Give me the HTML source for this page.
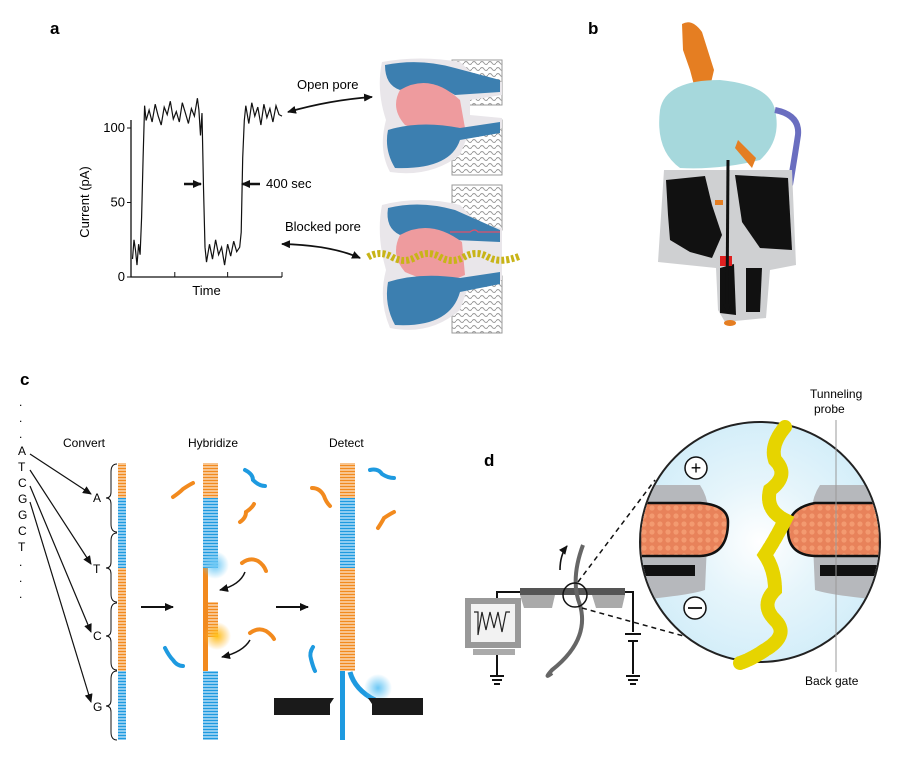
<!DOCTYPE html>
<html><head><meta charset="utf-8">
<style>
html,body{margin:0;padding:0;background:#fff;}
svg{display:block;font-family:"Liberation Sans",sans-serif;}
</style></head>
<body>
<svg width="900" height="758" viewBox="0 0 900 758">
<defs>
<pattern id="lip" width="8" height="6" patternUnits="userSpaceOnUse"><path d="M0 3 Q2 0 4 3 T8 3" fill="none" stroke="#999" stroke-width="1"/></pattern>
<pattern id="rungO" width="4" height="3" patternUnits="userSpaceOnUse"><rect width="4" height="3" fill="#f28a1e"/><rect x="0" y="1.5" width="4" height="1" fill="#fff"/></pattern>
<pattern id="rungB" width="4" height="3" patternUnits="userSpaceOnUse"><rect width="4" height="3" fill="#1e9ae0"/><rect x="0" y="1.5" width="4" height="1" fill="#fff"/></pattern>
<pattern id="dots" width="8" height="8" patternUnits="userSpaceOnUse"><rect width="8" height="8" fill="#e8825a"/><circle cx="4" cy="4" r="2.6" fill="#f39a70"/></pattern>
<radialGradient id="glowB"><stop offset="0" stop-color="#6cc8f5"/><stop offset="1" stop-color="#6cc8f5" stop-opacity="0"/></radialGradient>
<radialGradient id="glowO"><stop offset="0" stop-color="#ffc21a"/><stop offset="1" stop-color="#ffb020" stop-opacity="0"/></radialGradient>
<radialGradient id="circ"><stop offset="0" stop-color="#ffffff"/><stop offset="0.5" stop-color="#e6f5fb"/><stop offset="1" stop-color="#d4eef9"/></radialGradient>
<marker id="ah" markerWidth="9" markerHeight="8" refX="8" refY="4" orient="auto-start-reverse" markerUnits="userSpaceOnUse"><path d="M0 0 L9 4 L0 8 Z" fill="#111"/></marker>
</defs>

<!-- panel labels -->
<text x="50" y="34" font-size="17" font-weight="bold">a</text>
<text x="588" y="34" font-size="17" font-weight="bold">b</text>
<text x="20" y="385" font-size="17" font-weight="bold">c</text>
<text x="484" y="466" font-size="17" font-weight="bold">d</text>

<!-- PANEL A chart -->
<g id="chartA"></g>
<text x="266" y="188" font-size="13">400 sec</text>
<line x1="184" y1="184" x2="201" y2="184" stroke="#111" stroke-width="2.5" marker-end="url(#ah)"/>
<line x1="260" y1="184" x2="242" y2="184" stroke="#111" stroke-width="2.5" marker-end="url(#ah)"/>

<!-- pores -->
<g>
 <rect x="452" y="60" width="50" height="45" fill="url(#lip)" stroke="#999"/>
 <rect x="452" y="120" width="50" height="55" fill="url(#lip)" stroke="#999"/>
 <path d="M382 62 Q420 55 460 62 L480 80 L502 82 L502 95 L470 100 L470 115 L502 118 L502 128 L470 130 L460 155 Q430 178 390 172 Q378 150 386 120 Q376 90 382 62Z" fill="#e9e6ea"/>
 <path d="M385 65 Q420 58 455 68 L500 80 L500 92 L455 95 Q430 80 400 90 Q385 85 385 65Z" fill="#3c7fb0"/>
 <path d="M400 90 Q430 72 460 100 L465 128 Q440 140 405 125 Q390 108 400 90Z" fill="#ee9b9e"/>
 <path d="M388 130 Q420 120 460 128 L500 122 L500 133 L460 140 Q450 170 395 168 Q384 150 388 130Z" fill="#3c7fb0"/>
</g>
<g>
 <rect x="452" y="185" width="50" height="45" fill="url(#lip)" stroke="#999"/>
 <rect x="452" y="276" width="50" height="57" fill="url(#lip)" stroke="#999"/>
 <path d="M382 205 Q420 195 460 205 L480 225 L502 228 L502 280 L470 282 L460 310 Q430 336 390 328 Q378 300 386 270 Q376 235 382 205Z" fill="#e9e6ea"/>
 <path d="M388 208 Q420 200 455 210 L500 230 L500 242 L455 240 Q430 225 400 235 Q385 228 388 208Z" fill="#3c7fb0"/>
 <path d="M400 235 Q430 218 462 242 L465 275 Q440 288 405 272 Q390 255 400 235Z" fill="#ee9b9e"/>
 <path d="M388 282 Q420 272 460 278 L500 272 L500 284 L460 292 Q450 328 395 325 Q384 305 388 282Z" fill="#3c7fb0"/>
 <path d="M368 257 Q380 250 392 257 T416 257 T440 257 T464 257 T488 257 T520 256" fill="none" stroke="#c8b418" stroke-width="7" stroke-dasharray="3 2"/>
 <path d="M450 232 L470 232 Q475 228 478 232 L500 232" fill="none" stroke="#e0506a" stroke-width="1.2"/>
</g>
<text x="297" y="89" font-size="13">Open pore</text>
<path d="M288 112 Q330 100 372 97" fill="none" stroke="#111" stroke-width="1.8" marker-end="url(#ah)" marker-start="url(#ah)"/>
<text x="285" y="231" font-size="13">Blocked pore</text>
<path d="M282 244 Q330 245 360 258" fill="none" stroke="#111" stroke-width="1.8" marker-end="url(#ah)" marker-start="url(#ah)"/>

<!-- PANEL B -->
<g>
 <path d="M682 24 Q692 18 702 32 L714 70 L707 100 L698 100 L690 70 L683 50 Z" fill="#e57e22"/>
 <path d="M660 110 Q665 80 720 80 Q770 85 775 110 Q782 140 760 160 Q720 170 680 168 Q655 150 660 110Z" fill="#a6d8dc"/>
 <path d="M738 140 L756 158 L752 168 L735 148Z" fill="#e57e22"/>
 <path d="M775 110 Q800 115 798 135 Q795 155 790 185" fill="none" stroke="#6a6ec0" stroke-width="6"/>
 <path d="M664 170 L792 170 L796 265 L770 270 L766 318 L725 322 L718 310 L716 268 L658 262 Z" fill="#cfd0d2"/>
 <path d="M666 180 L705 176 L712 205 L722 235 L712 258 L690 252 L670 240 L668 215Z" fill="#111"/>
 <path d="M735 175 L788 178 L792 250 L760 248 L742 222Z" fill="#111"/>
 <path d="M720 268 L734 264 L736 315 L720 313Z" fill="#111"/>
 <path d="M746 268 L762 268 L760 312 L746 312Z" fill="#111"/>
 <rect x="720" y="256" width="12" height="10" fill="#e02020"/>
 <rect x="715" y="200" width="8" height="5" fill="#e57e22"/>
 <ellipse cx="730" cy="323" rx="6" ry="3" fill="#e57e22"/>
 <line x1="728" y1="160" x2="727" y2="312" stroke="#111" stroke-width="3" marker-end="url(#ah)"/>
</g>

<!-- PANEL C -->
<g font-size="12">
 <text x="19" y="406">.</text><text x="19" y="422">.</text><text x="19" y="438">.</text>
 <text x="18" y="455">A</text><text x="18" y="471">T</text><text x="18" y="487">C</text><text x="18" y="503">G</text><text x="18" y="519">G</text><text x="18" y="535">C</text><text x="18" y="551">T</text>
 <text x="19" y="566">.</text><text x="19" y="582">.</text><text x="19" y="598">.</text>
</g>
<text x="63" y="447" font-size="12">Convert</text>
<text x="188" y="447" font-size="12">Hybridize</text>
<text x="329" y="447" font-size="12">Detect</text>
<g stroke="#111" stroke-width="1.2" fill="none">
 <line x1="30" y1="454" x2="91" y2="494" marker-end="url(#ah)"/>
 <line x1="30" y1="470" x2="91" y2="564" marker-end="url(#ah)"/>
 <line x1="30" y1="486" x2="91" y2="632" marker-end="url(#ah)"/>
 <line x1="30" y1="502" x2="91" y2="702" marker-end="url(#ah)"/>
</g>
<g font-size="12">
 <text x="93" y="502">A</text><text x="93" y="573">T</text><text x="93" y="640">C</text><text x="93" y="711">G</text>
</g>
<g stroke="#111" stroke-width="1" fill="none">
 <path d="M117 464 Q111 464 111 472 L111 492 Q111 498 106 498 Q111 498 111 504 L111 524 Q111 532 117 532"/>
 <path d="M117 533 Q111 533 111 541 L111 562 Q111 568 106 568 Q111 568 111 574 L111 594 Q111 602 117 602"/>
 <path d="M117 603 Q111 603 111 611 L111 630 Q111 636 106 636 Q111 636 111 642 L111 662 Q111 670 117 670"/>
 <path d="M117 671 Q111 671 111 679 L111 700 Q111 706 106 706 Q111 706 111 712 L111 732 Q111 740 117 740"/>
</g>
<g>
 <rect x="118" y="463" width="8" height="35" fill="url(#rungO)"/>
 <rect x="118" y="498" width="8" height="70" fill="url(#rungB)"/>
 <rect x="118" y="568" width="8" height="103" fill="url(#rungO)"/>
 <rect x="118" y="671" width="8" height="69" fill="url(#rungB)"/>
</g>
<g>
 <rect x="203" y="463" width="15" height="35" fill="url(#rungO)"/>
 <rect x="203" y="498" width="15" height="70" fill="url(#rungB)"/>
 <rect x="203" y="568" width="5" height="103" fill="#f28a1e"/>
 <rect x="208" y="602" width="10" height="35" fill="url(#rungO)"/>
 <rect x="203" y="671" width="15" height="69" fill="url(#rungB)"/>
 <circle cx="215" cy="565" r="14" fill="url(#glowB)"/>
 <circle cx="217" cy="636" r="14" fill="url(#glowO)"/>
</g>
<g>
 <rect x="340" y="463" width="15" height="35" fill="url(#rungO)"/>
 <rect x="340" y="498" width="15" height="70" fill="url(#rungB)"/>
 <rect x="340" y="568" width="15" height="103" fill="url(#rungO)"/>
 <rect x="340" y="671" width="5" height="69" fill="#1e9ae0"/>
 <path d="M350 672 Q355 690 375 700" fill="none" stroke="#1e9ae0" stroke-width="5"/>
 <circle cx="378" cy="688" r="14" fill="url(#glowB)"/>
 <path d="M274 698 L334 698 L330 704 L330 715 L274 715Z M368 698 L423 698 L423 715 L372 715 L372 704Z" fill="#1a1a1a"/>
</g>
<g fill="none" stroke-width="4" stroke-linecap="round">
 <path d="M245 470 q8 4 8 10 q6 6 12 6" stroke="#1e9ae0"/>
 <path d="M173 497 q6 -4 10 -8 q6 -4 10 -6" stroke="#f28a1e"/>
 <path d="M240 522 q6 -4 6 -10 q6 -4 8 -8" stroke="#f28a1e"/>
 <path d="M242 563 q8 -6 16 -2 q6 4 8 10" stroke="#f28a1e"/>
 <path d="M250 633 q8 -6 16 -2 q6 4 8 8" stroke="#f28a1e"/>
 <path d="M165 648 q4 8 8 12 q4 6 10 6" stroke="#1e9ae0"/>
 <path d="M370 470 q8 -2 12 4 q6 4 12 4" stroke="#1e9ae0"/>
 <path d="M312 488 q8 0 12 8 q2 6 6 10" stroke="#f28a1e"/>
 <path d="M378 528 q4 -6 6 -10 q6 -4 10 -6" stroke="#f28a1e"/>
 <path d="M313 647 q-4 6 -2 12 q2 8 4 12" stroke="#1e9ae0"/>
</g>
<path d="M245 572 Q240 585 220 590" fill="none" stroke="#111" stroke-width="1.5" marker-end="url(#ah)"/>
<path d="M250 640 Q243 652 222 657" fill="none" stroke="#111" stroke-width="1.5" marker-end="url(#ah)"/>
<line x1="141" y1="607" x2="173" y2="607" stroke="#111" stroke-width="2" marker-end="url(#ah)"/>
<line x1="276" y1="607" x2="308" y2="607" stroke="#111" stroke-width="2" marker-end="url(#ah)"/>

<!-- PANEL D -->
<g>
 <rect x="465" y="598" width="56" height="50" fill="#999"/>
 <rect x="471" y="604" width="44" height="38" fill="#f2f2f2"/>
 <path d="M474 612 L478 612 L478 635 L482 612 L486 630 L490 612 L494 628 L498 612 L502 632 L506 612 L510 612" fill="none" stroke="#222" stroke-width="1.2"/>
 <rect x="473" y="649" width="42" height="6" fill="#aaa"/>
 <line x1="497" y1="655" x2="497" y2="675" stroke="#111" stroke-width="2"/>
 <path d="M490 676 h14 M492 680 h10 M494 684 h6" stroke="#111" stroke-width="2"/>
 <path d="M497 598 V592 L520 592" fill="none" stroke="#111" stroke-width="2"/>
 <rect x="520" y="588" width="105" height="7" fill="#555"/>
 <path d="M520 595 L555 595 L552 608 L524 608Z M592 595 L625 595 L622 608 L596 608Z" fill="#aaa"/>
 <path d="M625 592 H633 V632" fill="none" stroke="#111" stroke-width="2"/>
 <path d="M625 634 h16 M628 641 h10" stroke="#111" stroke-width="2"/>
 <line x1="633" y1="641" x2="633" y2="674" stroke="#111" stroke-width="2"/>
 <path d="M626 676 h14 M628 680 h10 M630 684 h6" stroke="#111" stroke-width="2"/>
 <path d="M583 545 Q570 580 580 605 Q590 640 552 670 Q543 680 552 673" fill="none" stroke="#666" stroke-width="4"/>
 <path d="M560 570 Q560 555 567 546" fill="none" stroke="#111" stroke-width="1.6" marker-end="url(#ah)"/>
 <circle cx="575" cy="595" r="12" fill="none" stroke="#111" stroke-width="1.5"/>
 <line x1="578" y1="582" x2="655" y2="480" stroke="#111" stroke-width="1.5" stroke-dasharray="5 4"/>
 <line x1="582" y1="608" x2="698" y2="640" stroke="#111" stroke-width="1.5" stroke-dasharray="5 4"/>
</g>
<g>
 <circle cx="760" cy="542" r="120" fill="url(#circ)" stroke="#222" stroke-width="2"/>
 <clipPath id="cc"><circle cx="760" cy="542" r="119"/></clipPath>
 <g clip-path="url(#cc)">
  <path d="M640 485 L700 485 Q710 500 708 520 L705 590 Q690 595 640 600Z" fill="#b6b8bc"/>
  <path d="M880 485 L820 485 Q810 500 812 520 L815 590 Q830 595 880 600Z" fill="#b6b8bc"/>
  <path d="M640 503 L700 503 Q728 505 728 522 Q728 555 700 556 L640 556Z" fill="url(#dots)" stroke="#111" stroke-width="2.5"/>
  <path d="M880 503 L815 503 Q788 508 788 530 Q788 555 815 556 L880 556Z" fill="url(#dots)" stroke="#111" stroke-width="2.5"/>
  <rect x="640" y="565" width="55" height="11" fill="#111"/>
  <rect x="820" y="565" width="60" height="11" fill="#111"/>
 </g>
 <path d="M785 427 Q770 445 775 460 Q790 475 770 490 Q765 510 785 520 Q775 540 765 555 Q775 570 775 590 Q760 605 775 620 Q790 635 765 650 Q750 660 740 663" fill="none" stroke="#e6d400" stroke-width="14" stroke-dasharray="5 2" stroke-linecap="round"/>
 <circle cx="696" cy="468" r="11" fill="#fff" stroke="#111" stroke-width="1.5"/>
 <text x="696" y="474" font-size="18" text-anchor="middle">+</text>
 <circle cx="695" cy="608" r="11" fill="#fff" stroke="#111" stroke-width="1.5"/>
 <line x1="688" y1="608" x2="702" y2="608" stroke="#111" stroke-width="1.8"/>
</g>
<line x1="836" y1="420" x2="836" y2="672" stroke="#999" stroke-width="1"/>
<text x="810" y="398" font-size="12">Tunneling</text>
<text x="814" y="413" font-size="12">probe</text>
<text x="805" y="685" font-size="12">Back gate</text>
</svg>

<script>
var timePoints=[1,2,3,4,5,6,7,8,9,10,12,14,16,18,20,22,24,26,28,30,32,34,36,38,40,42,44,45,46,47,48,49,50,52,54,56,58,60,62,64,66,68,70,72,73,74,75,76,78,80,82,84,86,88,90,92,94,96,98,100];
var currentValues=[12,25,18,8,22,15,40,80,115,105,112,104,116,108,102,114,109,118,106,111,104,117,110,103,113,108,120,112,95,110,60,20,10,22,12,25,15,20,8,22,14,24,17,20,30,80,105,115,103,117,108,114,102,116,107,113,104,115,109,108];
var yTickValues=[0,50,100];
var yTickLabels=["0","50","100"];
var xTickValues=[0,29,64,100];
(function(){
 var NS="http://www.w3.org/2000/svg";
 var g=document.getElementById('chartA');
 var x0=131,x1=282,y0=277,y1=128;
 function xs(t){return x0+(t/100)*(x1-x0);}
 function ys(v){return y0-(v/100)*(y0-y1);}
 function mk(tag,attrs){var e=document.createElementNS(NS,tag);for(var k in attrs)e.setAttribute(k,attrs[k]);g.appendChild(e);return e;}
 var ax=mk('path',{d:'M'+x0+' '+(y1-8)+' V'+y0+' H'+x1,fill:'none',stroke:'#111','stroke-width':1.3});
 
 
 yTickValues.forEach(function(v,i){
  var tk=mk('line',{x1:x0-4,x2:x0,y1:ys(v),y2:ys(v),stroke:'#111'});
  
  
  var tl=mk('text',{x:x0-6,y:ys(v)+4,'font-size':13,'text-anchor':'end'});
  tl.textContent=yTickLabels[i];
  
  
 });
 xTickValues.forEach(function(t){
  var tk=mk('line',{x1:xs(t),x2:xs(t),y1:y0,y2:y0-5,stroke:'#111'});
  
  
 });
 var yt=mk('text',{x:0,y:0,'font-size':13,'text-anchor':'middle',transform:'translate(89,202) rotate(-90)'});
 yt.textContent='Current (pA)';
 
 
 var xt=mk('text',{x:(x0+x1)/2,y:295,'font-size':13,'text-anchor':'middle'});
 xt.textContent='Time';
 
 
 var d='';
 for(var i=0;i<timePoints.length;i++){d+=(i?'L':'M')+xs(timePoints[i]).toFixed(1)+' '+ys(currentValues[i]).toFixed(1);}
 var ln=mk('path',{d:d,fill:'none',stroke:'#111','stroke-width':1.2});
 
 
})();
</script>
</body></html>
